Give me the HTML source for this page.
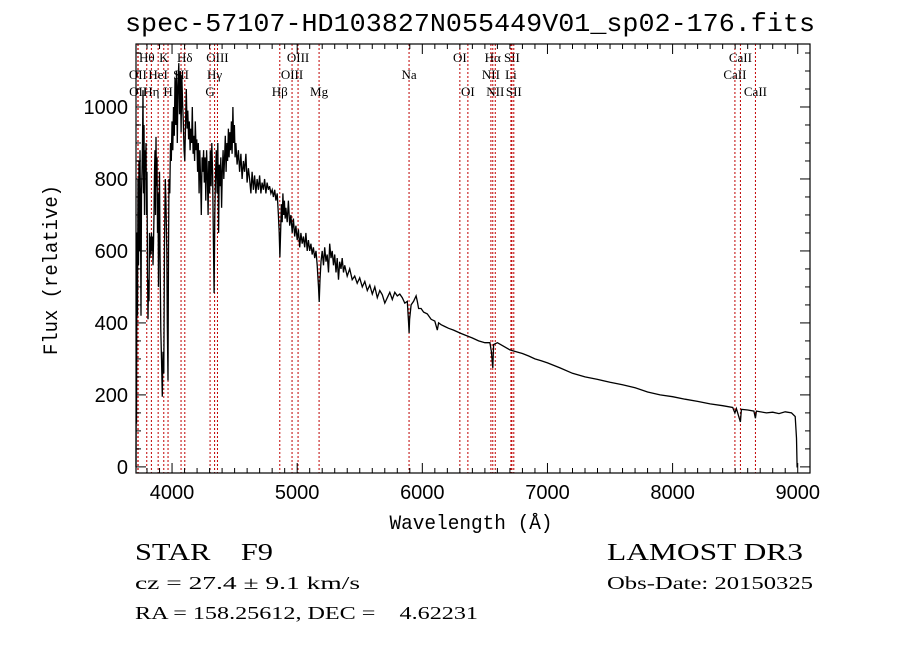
<!DOCTYPE html>
<html><head><meta charset="utf-8"><style>
html,body{margin:0;padding:0;background:#fff;width:900px;height:649px;overflow:hidden}
svg{display:block}
</style></head><body>
<svg id="chart" width="900" height="649" xmlns="http://www.w3.org/2000/svg">
<rect width="900" height="649" fill="#fff"/>
<text x="470" y="31" font-family="Liberation Mono, monospace" font-size="26" text-anchor="middle" textLength="690" lengthAdjust="spacingAndGlyphs">spec-57107-HD103827N055449V01_sp02-176.fits</text>
<text transform="translate(57,270) rotate(-90)" font-family="Liberation Mono, monospace" font-size="20" text-anchor="middle" textLength="170" lengthAdjust="spacingAndGlyphs">Flux (relative)</text>
<text x="471" y="529" font-family="Liberation Mono, monospace" font-size="20" text-anchor="middle" textLength="163" lengthAdjust="spacingAndGlyphs">Wavelength (Å)</text>
<text x="135" y="560" font-family="Liberation Serif, serif" font-size="24" textLength="138" lengthAdjust="spacingAndGlyphs" xml:space="preserve">STAR    F9</text>
<text x="607" y="560" font-family="Liberation Serif, serif" font-size="24" textLength="196" lengthAdjust="spacingAndGlyphs">LAMOST DR3</text>
<text x="135" y="589" font-family="Liberation Serif, serif" font-size="18" textLength="225" lengthAdjust="spacingAndGlyphs">cz = 27.4 ± 9.1 km/s</text>
<text x="607" y="589" font-family="Liberation Serif, serif" font-size="18" textLength="206" lengthAdjust="spacingAndGlyphs">Obs-Date: 20150325</text>
<text x="135" y="619" font-family="Liberation Serif, serif" font-size="18" textLength="343" lengthAdjust="spacingAndGlyphs" xml:space="preserve">RA = 158.25612, DEC =    4.62231</text>
<g id="plot"></g>
</svg>
<script>
const wavelengths=[3712,3714,3716,3720,3724,3728,3732,3736,3740,3744,3748,3752,3756,3760,3764,3768,3772,3776,3780,3784,3788,3792,3796,3800,3804,3808,3812,3816,3820,3824,3828,3832,3836,3840,3844,3848,3852,3856,3860,3864,3868,3872,3876,3880,3884,3888,3892,3896,3900,3904,3910,3916,3922,3928,3934,3940,3946,3952,3958,3962,3968,3972,3976,3982,3988,3994,4000,4006,4012,4018,4024,4030,4036,4042,4048,4054,4060,4066,4072,4078,4084,4090,4096,4102,4108,4114,4120,4126,4132,4138,4144,4150,4156,4162,4168,4174,4180,4186,4192,4198,4204,4210,4216,4222,4228,4234,4240,4246,4252,4258,4264,4270,4276,4282,4288,4294,4300,4306,4312,4318,4324,4330,4336,4342,4348,4354,4360,4366,4372,4378,4384,4390,4396,4402,4408,4414,4420,4426,4432,4438,4444,4450,4456,4462,4468,4474,4480,4486,4492,4498,4504,4510,4520,4530,4540,4550,4560,4570,4580,4590,4600,4610,4620,4630,4640,4650,4660,4670,4680,4690,4700,4710,4720,4730,4740,4750,4760,4770,4780,4790,4800,4810,4820,4830,4840,4850,4856,4862,4868,4874,4880,4886,4892,4898,4904,4910,4920,4930,4940,4950,4960,4970,4980,4990,5000,5010,5020,5030,5040,5050,5060,5070,5080,5090,5100,5110,5120,5130,5140,5150,5160,5170,5176,5182,5190,5200,5210,5220,5230,5240,5250,5260,5270,5280,5290,5300,5310,5320,5330,5340,5350,5360,5370,5380,5400,5420,5440,5460,5480,5500,5520,5540,5560,5580,5600,5620,5640,5660,5680,5700,5720,5740,5760,5780,5800,5820,5840,5860,5880,5890,5894,5898,5910,5930,5950,5960,5970,5990,6010,6040,6070,6100,6120,6130,6150,6180,6210,6250,6300,6350,6400,6450,6500,6540,6552,6563,6570,6600,6650,6700,6750,6800,6850,6900,6950,7000,7100,7200,7300,7400,7500,7600,7700,7800,7900,8000,8100,8200,8300,8400,8480,8498,8510,8542,8550,8600,8650,8662,8670,8750,8800,8850,8900,8950,8980,8990,8995,9000];
const fluxValues=[0,350,120,650,420,800,560,850,600,880,700,420,760,820,900,1047,760,950,700,880,820,900,700,820,540,410,520,460,650,580,640,590,650,600,640,560,620,700,820,880,700,917,780,860,650,760,500,700,820,600,380,300,195,320,260,620,800,730,600,400,240,600,800,760,900,850,960,880,1000,920,1080,950,1100,900,1060,1122,980,1100,930,1090,1010,960,880,850,960,1050,940,990,910,960,880,940,900,1000,870,920,850,960,880,910,820,900,760,880,800,700,860,820,880,790,860,740,880,820,700,850,760,880,780,900,820,650,483,700,820,880,760,900,650,840,780,860,720,820,880,800,860,920,820,900,850,940,860,930,880,960,870,1000,900,950,860,900,840,880,820,870,800,850,820,870,790,830,800,760,820,770,810,760,800,770,810,760,790,770,800,760,790,770,780,760,770,750,770,740,760,700,650,583,660,730,680,760,700,740,690,720,680,740,670,700,650,690,640,670,630,660,610,650,620,640,610,650,600,630,600,620,590,610,580,600,560,500,458,520,570,600,560,610,570,590,540,620,580,600,560,590,540,580,520,570,550,580,540,560,530,550,520,530,510,525,500,515,490,505,480,500,470,490,478,455,470,485,465,485,475,480,470,455,460,400,372,410,450,460,475,460,440,440,430,425,410,405,380,400,395,390,385,380,372,365,358,350,345,345,320,275,340,345,335,325,320,315,308,300,295,289,275,260,250,243,235,228,220,208,200,195,188,182,175,170,165,150,162,125,160,158,155,135,155,150,152,148,153,150,140,80,0,0];
const xTicks=[4000,5000,6000,7000,8000,9000];
const xTickLabels=["4000","5000","6000","7000","8000","9000"];
const yTicks=[0,200,400,600,800,1000];
const yTickLabels=["0","200","400","600","800","1000"];
const lineWaves=[3798,3934,4102,4363,5007,6300,6563,6716,8542,3727,3889,4072,4340,4959,5894,6548,6708,8498,3729,3835,3968,4304,4861,5175,6364,6583,6731,8662];
const lineNames=["Hθ","K","Hδ","OIII","OIII","OI","Hα","SII","CaII","OII","HeI","SII","Hγ","OIII","Na","NII","Li","CaII","OII","Hη","H","G","Hβ","Mg","OI","NII","SII","CaII"];
const lineRows=[0,0,0,0,0,0,0,0,0,1,1,1,1,1,1,1,1,1,2,2,2,2,2,2,2,2,2,2];

const L=136,R=810,T=44,B=473;
const X0=3712,X1=9098,Y0=-17,Y1=1175;
const sx=w=>L+(w-X0)/(X1-X0)*(R-L);
const sy=f=>B-(f-Y0)/(Y1-Y0)*(B-T);
const NS="http://www.w3.org/2000/svg";
const g=document.getElementById('plot');
function mk(tag,attrs){const e=document.createElementNS(NS,tag);for(const k in attrs)e.setAttribute(k,attrs[k]);g.appendChild(e);return e;}

// emission/absorption line markers
lineWaves.forEach((w,i)=>{
  const x=sx(w);
  const ln=mk('line',{x1:x,x2:x,y1:T,y2:B,stroke:'#c00000','stroke-width':1,'stroke-dasharray':'2,2'});
  
  
  const t=mk('text',{x:x,y:62+lineRows[i]*17,'font-family':'Liberation Serif, serif','font-size':13,'text-anchor':'middle'});
  t.textContent=lineNames[i];
  
  
});

// spectrum
let d='';
wavelengths.forEach((w,i)=>{d+=(i?'L':'M')+sx(w).toFixed(1)+','+sy(fluxValues[i]).toFixed(1);});
const sp=mk('path',{d:d,fill:'none',stroke:'#000','stroke-width':1.3,'stroke-linejoin':'miter'});



// frame
const fr=mk('rect',{x:L,y:T,width:R-L,height:B-T,fill:'none',stroke:'#000','stroke-width':1.2});



// x ticks
for(let w=3800;w<=9000;w+=100){
  const x=sx(w);const maj=(w%1000===0);const len=maj?10:5;
  mk('line',{x1:x,x2:x,y1:B,y2:B-len,stroke:'#000'});
  mk('line',{x1:x,x2:x,y1:T,y2:T+len,stroke:'#000'});
}
xTicks.forEach((w,i)=>{
  const t=mk('text',{x:sx(w),y:B+26,'font-family':'Liberation Sans, sans-serif','font-size':20,'text-anchor':'middle'});
  t.textContent=xTickLabels[i];
  
  
});
// y ticks
for(let f=0;f<=1150;f+=50){
  const y=sy(f);const maj=(f%200===0);const len=maj?10:5;
  mk('line',{x1:L,x2:L+len,y1:y,y2:y,stroke:'#000'});
  mk('line',{x1:R,x2:R-len,y1:y,y2:y,stroke:'#000'});
}
yTicks.forEach((f,i)=>{
  const t=mk('text',{x:L-8,y:sy(f)+7,'font-family':'Liberation Sans, sans-serif','font-size':20,'text-anchor':'end'});
  t.textContent=yTickLabels[i];
  
  
});
</script>
</body></html>
